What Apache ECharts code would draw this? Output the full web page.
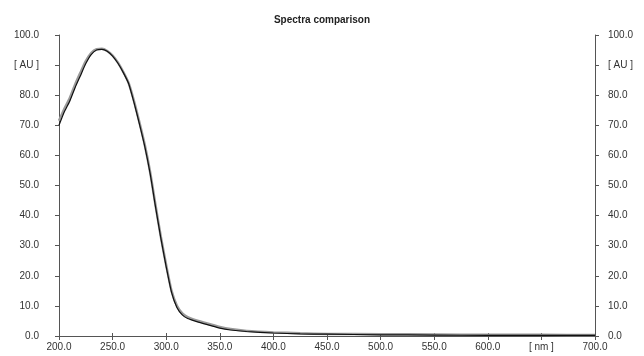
<!DOCTYPE html>
<html>
<head>
<meta charset="utf-8">
<script src="https://cdn.jsdelivr.net/npm/echarts@6/dist/echarts.min.js"></script>
<style>
  html, body { margin: 0; padding: 0; background: #fff; }
  #chart { width: 644px; height: 356px; }
</style>
</head>
<body>
<div id="chart"></div>
<script>
const wavelengths = [200, 205, 210, 215, 220, 225, 230, 235, 240, 245, 250, 255, 260, 265, 270, 275, 280, 285, 290, 295, 300, 305, 310, 315, 320, 330, 340, 350, 360, 375, 400, 425, 450, 500, 550, 600, 650, 700];
const sampleA = [70, 74.5, 78, 82.5, 86.5, 90.5, 93.5, 95, 95.2, 94.6, 93, 90.6, 87.5, 83.8, 77.5, 70.5, 63, 54, 43, 32.5, 23, 14.5, 9.5, 7, 5.8, 4.6, 3.6, 2.6, 2.0, 1.5, 1.0, 0.7, 0.6, 0.4, 0.3, 0.2, 0.2, 0.2];
const sampleB = [71.5, 75.5, 79, 83.5, 87.5, 91.3, 94, 95.3, 95.4, 94.7, 93.2, 90.8, 87.7, 84, 78, 71, 63.5, 54.5, 43.5, 33, 23.5, 15, 10, 7.5, 6.3, 5, 4, 3, 2.3, 1.7, 1.2, 0.9, 0.7, 0.6, 0.5, 0.4, 0.4, 0.3];
const yUnitAt = 90;
const xUnitAt = 650;

const chart = echarts.init(document.getElementById("chart"));

const axisColor = "#555";
const labelColor = "#333";
const font = "Liberation Sans, Arial, sans-serif";

const yLabel = (v) => (v === yUnitAt ? "[ AU ]" : v.toFixed(1));
const xLabel = (v) => (v === xUnitAt ? "[ nm ]" : v.toFixed(1));

const yBase = {
  type: "value",
  min: 0,
  max: 100,
  interval: 10,
  splitLine: { show: false },
  axisLine: { show: true, lineStyle: { color: axisColor, width: 1 } },
  axisTick: { show: true, length: 4, lineStyle: { color: axisColor } },
};

const option = {
  animation: false,
  title: {
    text: "Spectra comparison",
    left: "center",
    top: 10,
    textStyle: { fontFamily: font, fontSize: 10, fontWeight: "bold", color: "#222" },
  },
  grid: { left: 59, right: 49, top: 35, bottom: 20 },
  xAxis: [
    {
      type: "value",
      min: 200,
      max: 700,
      interval: 50,
      position: "bottom",
      splitLine: { show: false },
      axisLine: { lineStyle: { color: axisColor, width: 1 } },
      axisTick: { length: 4, lineStyle: { color: axisColor } },
      axisLabel: { formatter: xLabel, color: labelColor, fontFamily: font, fontSize: 10, margin: 6 },
    },
    {
      type: "value",
      min: 200,
      max: 700,
      interval: 50,
      position: "top",
      splitLine: { show: false },
      axisLine: { lineStyle: { color: axisColor, width: 1 } },
      axisTick: { length: 3, lineStyle: { color: axisColor } },
      axisLabel: { show: false },
    },
  ],
  yAxis: [
    Object.assign({}, yBase, {
      position: "left",
      axisLabel: { formatter: yLabel, color: labelColor, fontFamily: font, fontSize: 10, margin: 20 },
    }),
    Object.assign({}, yBase, {
      position: "right",
      axisLabel: { formatter: yLabel, color: labelColor, fontFamily: font, fontSize: 10, margin: 13 },
    }),
  ],
  series: [
    {
      name: "Sample B",
      type: "line",
      data: wavelengths.map((w, i) => [w, sampleB[i]]),
      smooth: 0.2,
      symbol: "none",
      lineStyle: { color: "#9a9a9a", width: 2.5 },
    },
    {
      name: "Sample A",
      type: "line",
      data: wavelengths.map((w, i) => [w, sampleA[i]]),
      smooth: 0.2,
      symbol: "none",
      lineStyle: { color: "#111", width: 1.2 },
    },
  ],
};

chart.setOption(option);
</script>
</body>
</html>
